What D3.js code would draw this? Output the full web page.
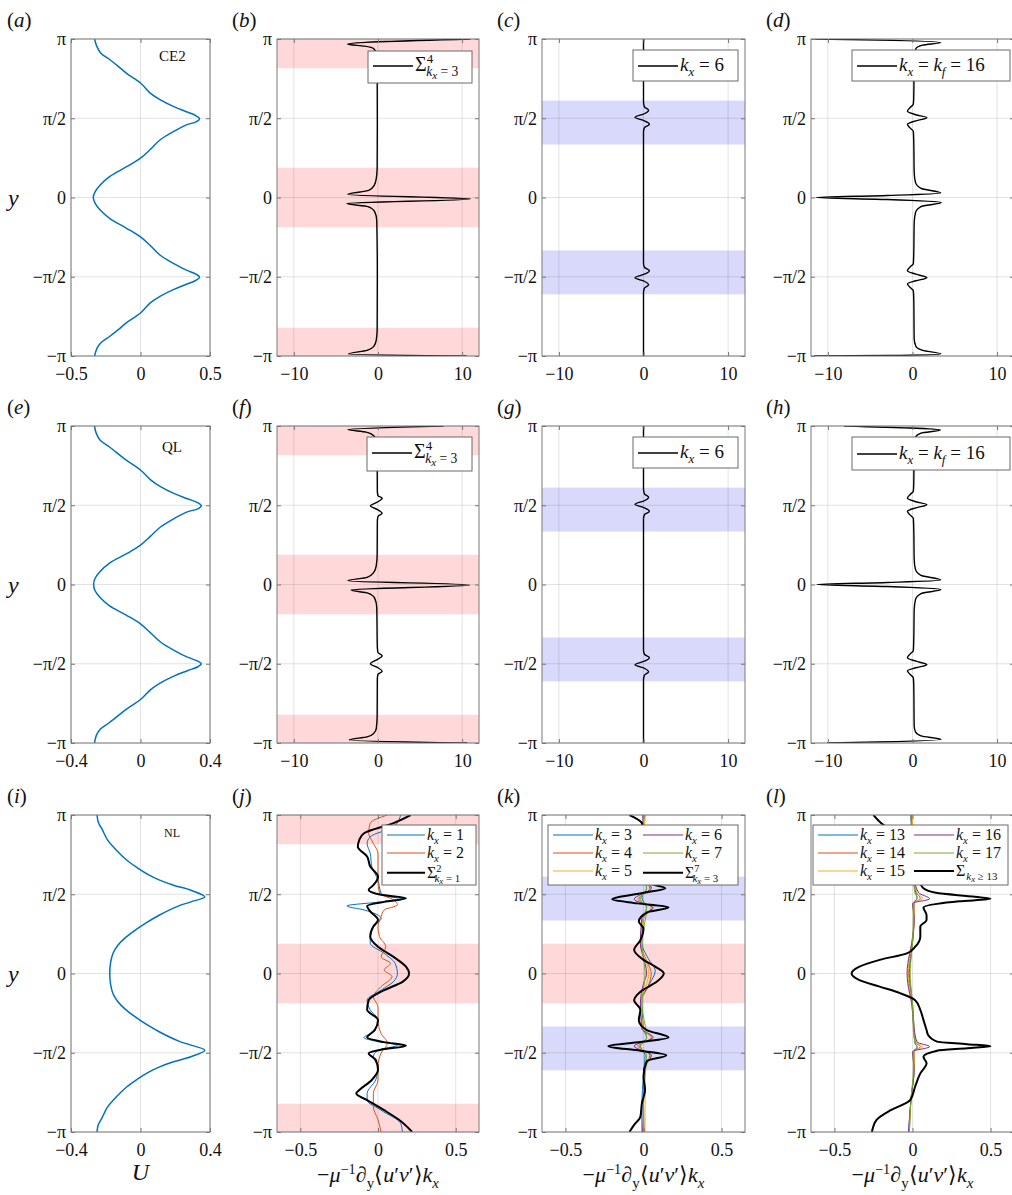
<!DOCTYPE html>
<html><head><meta charset="utf-8">
<script src="https://cdnjs.cloudflare.com/ajax/libs/d3/7.8.5/d3.min.js"></script>
<style>
body{margin:0;background:#fff;}
svg text{font-family:"Liberation Serif","Times New Roman",serif;fill:#111;}
</style></head><body>
<svg id="fig" width="1012" height="1195"></svg>
<script>
var PI = Math.PI;

// ---- ticks ----
var yTicks = [-PI, -PI/2, 0, PI/2, PI];
var yTickLabels = ["−π", "−π/2", "0", "π/2", "π"];
var xTicksU5 = [-0.5, 0, 0.5];
var xTicksU4 = [-0.4, 0, 0.4];
var xTicksFlux = [-10, 0, 10];
var xTicksNL = [-0.5, 0, 0.5];

// shaded y-ranges
var redBands = [[PI-0.58, PI], [-0.59, 0.59], [-PI, -PI+0.56]];
var blueBands = [[1.05, 1.92], [-1.92, -1.05]];

// ---- mean flow U(y): [y, U] ----
var uCE2 = [[3.1416,-0.33],[3.0,-0.315],[2.86,-0.285],[2.73,-0.22],[2.6,-0.16],[2.46,-0.10],[2.27,0.0],[2.07,0.07],[1.94,0.14],[1.80,0.24],[1.70,0.33],[1.62,0.40],[1.56,0.425],[1.50,0.40],[1.44,0.33],[1.31,0.24],[1.14,0.14],[0.95,0.07],[0.78,0.0],[0.61,-0.10],[0.42,-0.22],[0.25,-0.29],[0.12,-0.325],[0,-0.34],
  [-0.12,-0.325],[-0.25,-0.29],[-0.42,-0.22],[-0.61,-0.10],[-0.78,0.0],[-0.95,0.07],[-1.14,0.14],[-1.31,0.24],[-1.44,0.33],[-1.52,0.40],[-1.58,0.425],[-1.64,0.40],[-1.72,0.33],[-1.82,0.24],[-1.96,0.14],[-2.09,0.07],[-2.29,0.0],[-2.48,-0.10],[-2.62,-0.16],[-2.75,-0.22],[-2.88,-0.285],[-3.0,-0.315],[-3.1416,-0.33]];
var uQL = [[3.1416,-0.265],[3.0,-0.255],[2.86,-0.232],[2.73,-0.18],[2.46,-0.08],[2.27,0.0],[2.07,0.06],[1.94,0.115],[1.80,0.195],[1.70,0.27],[1.62,0.33],[1.56,0.35],[1.50,0.33],[1.44,0.27],[1.31,0.195],[1.14,0.115],[0.95,0.055],[0.78,0.0],[0.61,-0.08],[0.42,-0.18],[0.25,-0.235],[0.12,-0.262],[0,-0.27],
  [-0.12,-0.262],[-0.25,-0.235],[-0.42,-0.18],[-0.61,-0.08],[-0.78,0.0],[-0.95,0.055],[-1.14,0.115],[-1.31,0.195],[-1.44,0.27],[-1.52,0.33],[-1.57,0.35],[-1.63,0.33],[-1.71,0.27],[-1.81,0.195],[-1.95,0.115],[-2.08,0.06],[-2.28,0.0],[-2.47,-0.08],[-2.74,-0.18],[-2.87,-0.232],[-3.0,-0.255],[-3.1416,-0.265]];
var uNL = [[3.1416,-0.25],[3.0,-0.243],[2.85,-0.22],[2.65,-0.19],[2.45,-0.14],[2.25,-0.08],[2.1,-0.02],[1.95,0.05],[1.85,0.11],[1.75,0.19],[1.65,0.29],[1.52,0.37],[1.42,0.29],[1.34,0.22],[1.16,0.11],[1.0,0.03],[0.86,-0.03],[0.7,-0.09],[0.56,-0.13],[0.4,-0.158],[0.22,-0.172],[0,-0.177],
  [-0.22,-0.172],[-0.4,-0.158],[-0.56,-0.13],[-0.7,-0.09],[-0.86,-0.03],[-1.0,0.03],[-1.16,0.11],[-1.34,0.22],[-1.42,0.29],[-1.52,0.37],[-1.65,0.29],[-1.75,0.19],[-1.85,0.11],[-1.95,0.05],[-2.1,-0.02],[-2.25,-0.08],[-2.45,-0.14],[-2.65,-0.19],[-2.85,-0.22],[-3.0,-0.243],[-3.1416,-0.25]];

// ---- CE2 / QL momentum flux divergence: [y, value] ----
var ce2Sum34 = [[3.1416,11.0],[3.04,-3.6],[3.0,-1.6],[2.95,-0.5],[2.85,-0.2],[2.6,-0.1],[1.5,-0.08],[0.6,-0.1],[0.38,-0.2],[0.24,-0.45],[0.14,-1.1],[0.06,-3.6],[-0.03,11.0],[-0.12,-3.7],[-0.18,-1.2],[-0.28,-0.4],[-0.45,-0.15],[-1.5,-0.08],[-2.6,-0.1],[-2.82,-0.2],[-2.95,-0.5],[-3.03,-1.3],[-3.10,-3.5],[-3.1416,10.5]];
var ce2K6 = [[3.1416,0],[1.9,0],[1.80,0.1],[1.73,0.6],[1.66,0.1],[1.59,-1.0],[1.52,0.1],[1.45,0.7],[1.38,0.1],[1.3,0],[-1.3,0],[-1.38,0.1],[-1.45,0.7],[-1.52,0.1],[-1.59,-1.0],[-1.66,0.1],[-1.73,0.6],[-1.80,0.1],[-1.9,0],[-3.1416,0]];
var ce2K16 = [[3.1416,-11.5],[3.12,-4.0],[3.07,3.35],[3.02,1.2],[2.95,0.4],[2.8,0.2],[2.0,0.15],[1.85,0.1],[1.78,-0.3],[1.71,-0.6],[1.64,0.4],[1.58,1.7],[1.52,0.4],[1.45,-0.6],[1.38,-0.3],[1.31,0.1],[1.1,0.15],[0.5,0.2],[0.3,0.35],[0.18,1.0],[0.09,3.35],[0.04,-3.0],[0.0,-11.4],[-0.04,-3.0],[-0.1,3.4],[-0.18,1.0],[-0.3,0.35],[-0.5,0.2],[-1.1,0.15],[-1.31,0.1],[-1.38,-0.3],[-1.45,-0.6],[-1.52,0.4],[-1.59,1.7],[-1.65,0.4],[-1.71,-0.6],[-1.78,-0.3],[-1.85,0.1],[-2.0,0.15],[-2.8,0.2],[-2.95,0.4],[-3.03,1.2],[-3.10,3.35],[-3.13,-3.0],[-3.1416,-11.6]];
var qlSum34 = [[3.1416,7.8],[3.07,-3.6],[3.02,-1.4],[2.95,-0.5],[2.85,-0.2],[2.6,-0.1],[1.85,-0.08],[1.76,0.0],[1.71,0.5],[1.64,0.0],[1.56,-0.9],[1.48,0.0],[1.41,0.5],[1.35,0.0],[1.25,-0.08],[0.6,-0.1],[0.38,-0.2],[0.24,-0.5],[0.14,-1.3],[0.075,-3.6],[-0.01,10.9],[-0.11,-3.2],[-0.17,-1.2],[-0.27,-0.4],[-0.45,-0.15],[-1.25,-0.08],[-1.35,0.0],[-1.41,0.5],[-1.48,0.0],[-1.57,-0.9],[-1.65,0.0],[-1.72,0.5],[-1.78,0.0],[-1.87,-0.08],[-2.6,-0.1],[-2.85,-0.2],[-2.95,-0.5],[-3.02,-1.3],[-3.08,-3.4],[-3.1416,10.6]];
var qlK6 = [[3.1416,0],[1.9,0],[1.80,0.1],[1.73,0.6],[1.66,0.1],[1.59,-1.0],[1.52,0.1],[1.45,0.7],[1.38,0.1],[1.3,0],[-1.3,0],[-1.38,0.1],[-1.45,0.7],[-1.52,0.1],[-1.59,-1.0],[-1.66,0.1],[-1.73,0.6],[-1.80,0.1],[-1.9,0],[-3.1416,0]];
var qlK16 = [[3.1416,-8.1],[3.06,3.3],[3.0,1.0],[2.92,0.35],[2.8,0.2],[2.0,0.15],[1.85,0.1],[1.78,-0.3],[1.71,-0.6],[1.64,0.4],[1.58,1.7],[1.52,0.4],[1.45,-0.6],[1.38,-0.3],[1.31,0.1],[1.1,0.15],[0.5,0.2],[0.3,0.35],[0.18,1.0],[0.09,3.35],[0.04,-3.0],[0.0,-11.3],[-0.04,-3.0],[-0.1,3.35],[-0.18,1.0],[-0.3,0.35],[-0.5,0.2],[-1.1,0.15],[-1.31,0.1],[-1.38,-0.3],[-1.45,-0.6],[-1.52,0.4],[-1.59,1.7],[-1.65,0.4],[-1.71,-0.6],[-1.78,-0.3],[-1.85,0.1],[-2.0,0.15],[-2.8,0.2],[-2.92,0.35],[-3.0,1.0],[-3.07,3.35],[-3.1416,-10.1]];

// ---- NL: [y, value] ----
var nlK1 = [[3.14,0.146],[2.91,0.10],[2.71,-0.05],[2.58,-0.07],[2.38,-0.05],[2.12,-0.04],[1.85,0.0],[1.59,0.02],[1.53,0.06],[1.48,0.15],[1.42,0.02],[1.34,-0.2],[1.26,-0.09],[1.09,0.02],[0.93,-0.03],[0.73,-0.05],[0.60,-0.05],[0.40,0.04],[0.20,0.11],[0.0,0.125],[-0.16,0.10],[-0.33,0.02],[-0.53,-0.07],[-0.72,-0.05],[-0.92,0.0],[-1.19,-0.05],[-1.27,-0.09],[-1.35,0.0],[-1.42,0.125],[-1.52,0.0],[-1.65,-0.03],[-1.85,0.0],[-2.11,-0.015],[-2.38,-0.07],[-2.51,-0.07],[-2.71,0.02],[-2.97,0.146],[-3.14,0.157]];
var nlK2 = [[3.14,0.06],[2.98,-0.05],[2.78,-0.06],[2.58,-0.03],[2.38,0.0],[2.12,0.0],[1.85,0.0],[1.59,0.01],[1.46,0.10],[1.36,0.125],[1.26,0.04],[1.13,0.02],[0.93,0.0],[0.73,0.01],[0.53,0.05],[0.33,0.02],[0.20,0.08],[0.07,0.04],[-0.06,0.09],[-0.26,0.02],[-0.46,-0.03],[-0.66,0.0],[-0.92,0.0],[-1.19,0.02],[-1.38,0.06],[-1.58,0.02],[-1.85,0.0],[-2.11,0.0],[-2.38,-0.03],[-2.64,-0.03],[-2.90,0.0],[-3.14,0.02]];
var nlSum12 = [[3.14,0.21],[2.98,0.10],[2.78,-0.09],[2.65,-0.12],[2.51,-0.13],[2.32,-0.07],[2.12,-0.05],[1.92,0.0],[1.75,-0.03],[1.66,-0.06],[1.56,0.02],[1.49,0.18],[1.42,0.04],[1.34,-0.07],[1.23,-0.05],[1.06,0.0],[0.93,-0.03],[0.73,-0.05],[0.53,0.0],[0.33,0.10],[0.135,0.18],[0.0,0.2],[-0.16,0.16],[-0.33,0.04],[-0.53,-0.06],[-0.72,-0.07],[-0.92,0.0],[-1.12,-0.02],[-1.27,-0.07],[-1.36,0.04],[-1.43,0.18],[-1.51,0.02],[-1.58,-0.06],[-1.71,-0.015],[-1.91,0.0],[-2.11,-0.04],[-2.31,-0.12],[-2.38,-0.14],[-2.51,-0.07],[-2.71,0.04],[-2.90,0.135],[-3.14,0.22]];

var nlK3 = [[3.14,0.0],[2.5,0.0],[1.9,0.0],[1.69,0.02],[1.5,-0.01],[1.31,0.02],[1.1,0.0],[0.6,-0.01],[0.3,0.03],[0.05,0.075],[-0.2,0.04],[-0.5,-0.01],[-1.1,0.0],[-1.27,0.02],[-1.44,-0.02],[-1.62,0.01],[-2.0,0.0],[-2.6,-0.01],[-3.14,-0.01]];
var nlK4 = [[3.14,0.01],[2.4,0.0],[1.9,0.01],[1.69,0.04],[1.47,-0.03],[1.31,0.05],[1.1,0.0],[0.6,-0.02],[0.25,0.02],[0.0,0.05],[-0.25,0.03],[-0.6,-0.02],[-1.1,0.0],[-1.27,0.05],[-1.44,-0.03],[-1.62,0.04],[-1.9,0.01],[-2.6,0.0],[-3.14,0.005]];
var nlK5 = [[3.14,0.005],[2.4,0.01],[1.9,0.01],[1.69,0.05],[1.47,-0.04],[1.31,0.065],[1.1,0.0],[0.6,-0.015],[0.2,0.02],[0.0,0.035],[-0.2,0.02],[-0.6,-0.015],[-1.1,0.0],[-1.27,0.065],[-1.44,-0.04],[-1.62,0.05],[-1.9,0.01],[-2.6,0.01],[-3.14,0.01]];
var nlK6 = [[3.14,-0.005],[2.4,0.0],[1.9,0.0],[1.69,0.05],[1.47,-0.06],[1.31,0.06],[1.1,-0.01],[0.6,-0.02],[0.2,0.01],[0.0,0.02],[-0.2,0.0],[-0.6,-0.02],[-1.1,-0.01],[-1.27,0.06],[-1.44,-0.06],[-1.62,0.05],[-1.9,0.0],[-2.6,0.0],[-3.14,-0.005]];
var nlK7 = [[3.14,0.0],[2.4,0.0],[1.69,0.02],[1.47,-0.02],[1.31,0.02],[0.6,-0.01],[0.0,0.01],[-0.6,-0.01],[-1.27,0.02],[-1.44,-0.02],[-1.62,0.02],[-2.4,0.0],[-3.14,0.0]];
var nlSum37 = [[3.14,-0.09],[2.98,-0.01],[2.78,0.0],[2.12,0.0],[1.86,0.01],[1.79,0.03],[1.69,0.14],[1.60,0.0],[1.47,-0.20],[1.39,-0.04],[1.31,0.16],[1.22,0.03],[1.03,-0.03],[0.89,0.0],[0.66,-0.02],[0.47,-0.06],[0.27,0.0],[0.135,0.075],[0.0,0.13],[-0.16,0.086],[-0.36,-0.02],[-0.53,-0.06],[-0.72,-0.02],[-0.92,-0.03],[-1.12,0.02],[-1.27,0.16],[-1.36,-0.02],[-1.44,-0.225],[-1.53,-0.02],[-1.62,0.146],[-1.74,0.02],[-2.04,0.0],[-2.31,0.01],[-2.57,-0.01],[-2.84,-0.02],[-3.00,-0.06],[-3.14,-0.09]];

var nlK13 = [[3.14,-0.01],[2.5,0.0],[1.9,0.01],[1.6,0.02],[1.5,0.03],[1.4,0.01],[1.1,0.01],[0.6,0.0],[0.2,-0.015],[0.0,-0.02],[-0.2,-0.015],[-0.6,0.0],[-1.1,0.01],[-1.38,0.015],[-1.46,0.03],[-1.55,0.01],[-1.9,0.01],[-2.5,-0.01],[-3.14,-0.025]];
var nlK14 = [[3.14,-0.005],[2.5,0.005],[1.9,0.01],[1.6,0.025],[1.49,0.05],[1.4,0.01],[1.1,0.01],[0.6,0.0],[0.2,-0.02],[0.0,-0.025],[-0.2,-0.02],[-0.6,0.0],[-1.1,0.01],[-1.37,0.02],[-1.45,0.05],[-1.54,0.01],[-1.9,0.01],[-2.5,-0.01],[-3.14,-0.02]];
var nlK15 = [[3.14,0.0],[2.5,0.005],[1.9,0.01],[1.6,0.03],[1.49,0.065],[1.4,0.01],[1.1,0.01],[0.6,-0.005],[0.2,-0.025],[0.0,-0.03],[-0.2,-0.025],[-0.6,-0.005],[-1.1,0.01],[-1.36,0.025],[-1.45,0.065],[-1.54,0.01],[-1.9,0.01],[-2.5,-0.01],[-3.14,-0.02]];
var nlK16 = [[3.14,-0.01],[2.5,0.0],[1.9,0.01],[1.6,0.04],[1.48,0.11],[1.39,0.0],[1.1,0.01],[0.6,-0.005],[0.2,-0.03],[0.0,-0.035],[-0.2,-0.03],[-0.6,-0.005],[-1.1,0.01],[-1.36,0.03],[-1.45,0.11],[-1.55,0.0],[-1.9,0.01],[-2.5,-0.01],[-3.14,-0.025]];
var nlK17 = [[3.14,-0.01],[2.5,0.0],[1.9,0.005],[1.6,0.015],[1.49,0.03],[1.4,0.005],[1.1,0.005],[0.6,0.0],[0.2,-0.012],[0.0,-0.015],[-0.2,-0.012],[-0.6,0.0],[-1.1,0.005],[-1.37,0.015],[-1.45,0.03],[-1.54,0.005],[-1.9,0.005],[-2.5,-0.01],[-3.14,-0.02]];
var nlSumGe13 = [[3.14,-0.25],[2.98,-0.20],[2.78,-0.10],[2.45,0.0],[2.12,0.03],[1.79,0.05],[1.69,0.07],[1.60,0.15],[1.52,0.40],[1.48,0.50],[1.43,0.30],[1.38,0.157],[1.31,0.07],[1.16,0.09],[1.06,0.09],[0.93,0.05],[0.73,0.05],[0.53,0.017],[0.40,-0.036],[0.27,-0.21],[0.135,-0.34],[0.0,-0.39],[-0.13,-0.34],[-0.26,-0.21],[-0.39,-0.08],[-0.53,0.017],[-0.72,0.05],[-0.92,0.07],[-1.12,0.09],[-1.22,0.1],[-1.35,0.157],[-1.40,0.35],[-1.44,0.50],[-1.48,0.35],[-1.53,0.157],[-1.65,0.07],[-1.78,0.09],[-1.98,0.05],[-2.24,0.017],[-2.51,-0.015],[-2.71,-0.14],[-2.90,-0.23],[-3.14,-0.26]];

// ---- colours ----
var cBlue = "#0072BD", cOrange = "#D95319", cYellow = "#EDB120", cPurple = "#7E2F8E", cGreen = "#77AC30";
var redFill = "#ffd9d9", blueFill = "#d9d9fb";

// ---- text helpers ----
function rich(g, x, y, parts, fs, anchor) {
  var t = g.append("text").attr("x", x).attr("y", y).attr("font-size", fs)
    .attr("text-anchor", anchor || "start");
  var cur = 0;
  parts.forEach(function(p) {
    var shift = 0, size = fs;
    if (p.s === "p") { shift = -fs*0.38; size = fs*0.65; }
    if (p.s === "b") { shift = fs*0.25; size = fs*0.68; }
    if (p.s === "bb") { shift = fs*0.38; size = fs*0.55; }
    var sp = t.append("tspan").text(p.t).attr("font-size", size).attr("dy", shift - cur);
    if (p.dx) sp.attr("dx", p.dx);
    if (p.i) sp.attr("font-style", "italic");
    cur = shift;
  });
  return t;
}
function kxLbl(n) { return [{t:"k",i:1},{t:"x",s:"b",i:1},{t:" = " + n}]; }
function sumLbl(lo, hi) { return [{t:"Σ"},{t:hi,s:"p"},{t:"k",s:"b",i:1,dx:-7},{t:"x",s:"bb",i:1},{t:" = " + lo,s:"b"}]; }
var kfLbl = [{t:"k",i:1},{t:"x",s:"b",i:1},{t:" = "},{t:"k",i:1},{t:"f",s:"b",i:1},{t:" = 16"}];
var geLbl = [{t:"Σ"},{t:"k",s:"b",i:1,dx:1},{t:"x",s:"bb",i:1},{t:" ≥ 13",s:"b"}];
var fluxLbl = [{t:"−"},{t:"μ",i:1},{t:"−1",s:"p"},{t:"∂"},{t:"y",s:"b"},{t:"⟨"},{t:"u",i:1},{t:"′"},{t:"v",i:1},{t:"′⟩"},{t:"k",i:1},{t:"x",s:"b",i:1}];

function fmt(d) { return d === 0 ? "0" : (d < 0 ? "−" : "") + Math.abs(d); }

var svg = d3.select("#fig");
var colX = [71, 277, 542, 811], colW = [139, 202, 203, 203];
var rowY = [39, 426, 815], rowH = 317;
var letters = "abcdefghijkl";

function panel(r, c, cfg) {
  var w = colW[c], h = rowH;
  var g = svg.append("g").attr("transform", "translate(" + colX[c] + "," + rowY[r] + ")");
  var x = d3.scaleLinear().domain(cfg.xDomain).range([0, w]);
  var y = d3.scaleLinear().domain([-PI, PI]).range([h, 0]);
  var id = "clip" + r + c;
  g.append("clipPath").attr("id", id).append("rect").attr("width", w).attr("height", h);

  (cfg.bands || []).forEach(function(b) {
    b.ranges.forEach(function(rg) {
      g.append("rect").attr("x", 0).attr("width", w)
        .attr("y", y(rg[1])).attr("height", y(rg[0]) - y(rg[1])).attr("fill", b.color);
    });
  });
  // grid
  g.selectAll(".gx").data(cfg.xTicks).enter().append("line")
    .attr("x1", x).attr("x2", x).attr("y1", 0).attr("y2", h)
    .attr("stroke", "#262626").attr("stroke-opacity", 0.13);
  g.selectAll(".gy").data(yTicks).enter().append("line")
    .attr("y1", y).attr("y2", y).attr("x1", 0).attr("x2", w)
    .attr("stroke", "#262626").attr("stroke-opacity", 0.13);

  var line = d3.line().x(function(d) { return x(d[1]); }).y(function(d) { return y(d[0]); })
    .curve(cfg.smooth ? d3.curveCatmullRom.alpha(0.5) : d3.curveMonotoneY);
  var lines = g.append("g").attr("clip-path", "url(#" + id + ")");
  cfg.series.forEach(function(s) {
    lines.append("path").attr("d", line(s.data)).attr("fill", "none")
      .attr("stroke", s.color).attr("stroke-width", s.width).attr("stroke-linejoin", "round");
  });

  // axes
  var ax = g.append("g").attr("transform", "translate(0," + h + ")")
    .call(d3.axisBottom(x).tickValues(cfg.xTicks).tickFormat(fmt).tickSizeInner(-4).tickSizeOuter(0).tickPadding(8));
  g.append("g")
    .call(d3.axisLeft(y).tickValues(yTicks).tickFormat(function(d, i) { return yTickLabels[i]; }).tickSizeInner(-4).tickSizeOuter(0).tickPadding(5));
  g.append("g").attr("transform", "translate(" + w + ",0)")
    .call(d3.axisRight(y).tickValues(yTicks).tickFormat("").tickSizeInner(-4).tickSizeOuter(0));
  g.append("g")
    .call(d3.axisTop(x).tickValues(cfg.xTicks).tickFormat("").tickSizeInner(-4).tickSizeOuter(0));
  g.selectAll(".domain").remove();
  g.selectAll(".tick line").attr("stroke", "#777");
  g.selectAll(".tick text").style("font-family", "'Liberation Serif', serif").attr("font-size", 18).attr("fill", "#111");
  ax.selectAll(".tick text").attr("dy", "0.9em");
  g.append("rect").attr("width", w).attr("height", h).attr("fill", "none").attr("stroke", "#7a7a7a").attr("stroke-width", 1);

  if (cfg.legend) drawLegend(g, w, cfg.legend);
  if (cfg.tag) g.append("text").attr("x", cfg.tag.x).attr("y", cfg.tag.y).attr("font-size", cfg.tag.fs).text(cfg.tag.t);

  // panel letter
  var L = letters[r * 4 + c];
  var lt = svg.append("text").attr("x", colX[c] - (c === 0 ? 64 : 45)).attr("y", rowY[r] - 12).attr("font-size", 21);
  lt.append("tspan").text("(");
  lt.append("tspan").text(L).attr("font-style", "italic");
  lt.append("tspan").text(")");
}

function drawLegend(g, w, L) {
  var bx = w - L.right - L.w, by = L.top;
  g.append("rect").attr("x", bx).attr("y", by).attr("width", L.w).attr("height", L.h)
    .attr("fill", "#fff").attr("stroke", "#6a6a6a").attr("stroke-width", 1);
  L.items.forEach(function(it) {
    var lx = bx + 5 + (it.col || 0) * (L.colW || 0);
    var ly = by + L.base + (it.row || 0) * (L.rowH || 0);
    g.append("line").attr("x1", lx).attr("x2", lx + L.lineLen).attr("y1", ly - 5).attr("y2", ly - 5)
      .attr("stroke", it.color).attr("stroke-width", it.width);
    rich(g, lx + L.lineLen + 2, ly, it.label, L.fs);
  });
}

var black = "#000";
// row 1: CE2
panel(0, 0, {xDomain: [-0.5, 0.5], xTicks: xTicksU5, smooth: true, series: [{data: uCE2, color: cBlue, width: 1.5}],
  tag: {t: "CE2", x: 88, y: 22, fs: 15}});
panel(0, 1, {xDomain: [-12, 12], xTicks: xTicksFlux, bands: [{color: redFill, ranges: redBands}],
  series: [{data: ce2Sum34, color: black, width: 1.4}],
  legend: {right: 7, top: 12, w: 104, h: 32, base: 20, lineLen: 40, fs: 20, items: [{color: black, width: 1.4, label: sumLbl(3, 4)}]}});
panel(0, 2, {xDomain: [-12, 12], xTicks: xTicksFlux, bands: [{color: blueFill, ranges: blueBands}],
  series: [{data: ce2K6, color: black, width: 1.4}],
  legend: {right: 7, top: 11, w: 105, h: 31, base: 21, lineLen: 40, fs: 19, items: [{color: black, width: 1.4, label: kxLbl(6)}]}});
panel(0, 3, {xDomain: [-12, 12], xTicks: xTicksFlux,
  series: [{data: ce2K16, color: black, width: 1.4}],
  legend: {right: 4, top: 11, w: 158, h: 31, base: 21, lineLen: 40, fs: 19, items: [{color: black, width: 1.4, label: kfLbl}]}});
// row 2: QL
panel(1, 0, {xDomain: [-0.4, 0.4], xTicks: xTicksU4, smooth: true, series: [{data: uQL, color: cBlue, width: 1.5}],
  tag: {t: "QL", x: 91, y: 26, fs: 15}});
panel(1, 1, {xDomain: [-12, 12], xTicks: xTicksFlux, bands: [{color: redFill, ranges: redBands}],
  series: [{data: qlSum34, color: black, width: 1.4}],
  legend: {right: 7, top: 11, w: 105, h: 34, base: 21, lineLen: 40, fs: 20, items: [{color: black, width: 1.4, label: sumLbl(3, 4)}]}});
panel(1, 2, {xDomain: [-12, 12], xTicks: xTicksFlux, bands: [{color: blueFill, ranges: blueBands}],
  series: [{data: qlK6, color: black, width: 1.4}],
  legend: {right: 7, top: 11, w: 105, h: 31, base: 21, lineLen: 40, fs: 19, items: [{color: black, width: 1.4, label: kxLbl(6)}]}});
panel(1, 3, {xDomain: [-12, 12], xTicks: xTicksFlux,
  series: [{data: qlK16, color: black, width: 1.4}],
  legend: {right: 4, top: 11, w: 158, h: 33, base: 22, lineLen: 40, fs: 19, items: [{color: black, width: 1.4, label: kfLbl}]}});
// row 3: NL
panel(2, 0, {xDomain: [-0.4, 0.4], xTicks: xTicksU4, smooth: true, series: [{data: uNL, color: cBlue, width: 1.5}],
  tag: {t: "NL", x: 93, y: 22, fs: 12}});
panel(2, 1, {xDomain: [-0.65, 0.65], xTicks: xTicksNL, bands: [{color: redFill, ranges: redBands}],
  series: [{data: nlK1, color: cBlue, width: 1}, {data: nlK2, color: cOrange, width: 1}, {data: nlSum12, color: black, width: 2}],
  legend: {right: 3, top: 10, w: 94, h: 60, base: 15, rowH: 18, lineLen: 38, fs: 16, items: [
    {color: cBlue, width: 1, label: kxLbl(1), row: 0},
    {color: cOrange, width: 1, label: kxLbl(2), row: 1},
    {color: black, width: 2, label: sumLbl(1, 2), row: 2.1}]}});
panel(2, 2, {xDomain: [-0.65, 0.65], xTicks: xTicksNL,
  bands: [{color: redFill, ranges: [[-0.59, 0.59]]}, {color: blueFill, ranges: blueBands}],
  series: [{data: nlK3, color: cBlue, width: 1}, {data: nlK4, color: cOrange, width: 1}, {data: nlK5, color: cYellow, width: 1},
    {data: nlK6, color: cPurple, width: 1}, {data: nlK7, color: cGreen, width: 1}, {data: nlSum37, color: black, width: 2}],
  legend: {right: 7, top: 10, w: 190, h: 60, base: 15, rowH: 18, colW: 90, lineLen: 40, fs: 16, items: [
    {color: cBlue, width: 1, label: kxLbl(3), row: 0, col: 0},
    {color: cOrange, width: 1, label: kxLbl(4), row: 1, col: 0},
    {color: cYellow, width: 1, label: kxLbl(5), row: 2, col: 0},
    {color: cPurple, width: 1, label: kxLbl(6), row: 0, col: 1},
    {color: cGreen, width: 1, label: kxLbl(7), row: 1, col: 1},
    {color: black, width: 2, label: sumLbl(3, 7), row: 2.1, col: 1}]}});
panel(2, 3, {xDomain: [-0.65, 0.65], xTicks: xTicksNL,
  series: [{data: nlK13, color: cBlue, width: 1}, {data: nlK14, color: cOrange, width: 1}, {data: nlK15, color: cYellow, width: 1},
    {data: nlK16, color: cPurple, width: 1}, {data: nlK17, color: cGreen, width: 1}, {data: nlSumGe13, color: black, width: 2}],
  legend: {right: 6, top: 10, w: 195, h: 60, base: 15, rowH: 18, colW: 96, lineLen: 40, fs: 16, items: [
    {color: cBlue, width: 1, label: kxLbl(13), row: 0, col: 0},
    {color: cOrange, width: 1, label: kxLbl(14), row: 1, col: 0},
    {color: cYellow, width: 1, label: kxLbl(15), row: 2, col: 0},
    {color: cPurple, width: 1, label: kxLbl(16), row: 0, col: 1},
    {color: cGreen, width: 1, label: kxLbl(17), row: 1, col: 1},
    {color: black, width: 2, label: geLbl, row: 2, col: 1}]}});

// y labels
rowY.forEach(function(ry) {
  svg.append("text").attr("x", 8).attr("y", ry + rowH / 2 + 8).attr("font-size", 24).attr("font-style", "italic").text("y");
});
// x labels
svg.append("text").attr("x", colX[0] + colW[0] / 2).attr("y", 1180).attr("text-anchor", "middle")
  .attr("font-size", 24).attr("font-style", "italic").text("U");
[1, 2, 3].forEach(function(c) {
  rich(svg, colX[c] + colW[c] / 2, 1182, fluxLbl, 22, "middle");
});
</script>
</body></html>
